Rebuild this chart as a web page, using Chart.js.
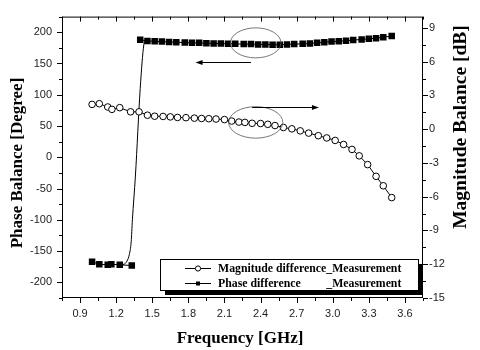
<!DOCTYPE html>
<html>
<head>
<meta charset="utf-8">
<script src="https://cdn.jsdelivr.net/npm/chart.js@4.4.1/dist/chart.umd.min.js"></script>
<style>
  html, body { margin: 0; padding: 0; background: #fff; }
  #wrap { width: 480px; height: 350px; }
</style>
</head>
<body>
<div id="wrap"><canvas id="balanceChart"></canvas></div>
<script>
// magnitude difference (right axis, dB)
const magFreq = [1.00, 1.06, 1.13, 1.165, 1.23, 1.32, 1.39, 1.46, 1.52, 1.59, 1.65, 1.71, 1.78, 1.85, 1.91,
  1.97, 2.03, 2.10, 2.16, 2.22, 2.27, 2.33, 2.40, 2.46, 2.52, 2.59, 2.66, 2.73, 2.80, 2.88, 2.95, 3.02,
  3.09, 3.16, 3.22, 3.29, 3.36, 3.42, 3.49];
const magDb = [2.20, 2.26, 1.97, 1.76, 1.91, 1.54, 1.54, 1.24, 1.15, 1.13, 1.09, 1.04, 1.02, 0.98, 0.95,
  0.93, 0.90, 0.85, 0.72, 0.63, 0.60, 0.52, 0.50, 0.43, 0.32, 0.15, 0.03, -0.15, -0.35, -0.58, -0.78, -1.00,
  -1.36, -1.80, -2.37, -3.15, -4.19, -5.03, -6.08];

// phase difference (left axis, degree)
const phaseLowFreq = [1.00, 1.06, 1.13, 1.16, 1.23, 1.33];
const phaseLowDeg = [-167, -171, -172, -171, -172, -173];
const phaseHighFreq = [1.40, 1.46, 1.52, 1.58, 1.64, 1.70, 1.77, 1.83, 1.89, 1.95, 2.01, 2.07, 2.13, 2.19,
  2.26, 2.32, 2.38, 2.44, 2.50, 2.56, 2.62, 2.68, 2.75, 2.81, 2.87, 2.93, 2.99, 3.05, 3.11, 3.17, 3.24,
  3.30, 3.36, 3.42, 3.49];
const phaseHighDeg = [188, 186, 185.5, 185, 184.5, 184, 183.5, 183, 183, 182.5, 182, 182, 181.5, 181.5,
  181, 181, 180.5, 180.5, 180, 180, 180.5, 181, 181.5, 182, 183, 184, 185, 185.5, 186.5, 187.5, 188.5,
  189.5, 190.5, 192, 194];
// the steep phase jump curve
const stepFreq = [1.23, 1.265, 1.29, 1.31, 1.325, 1.335, 1.36, 1.40, 1.43, 1.445];
const stepDeg = [-172, -171, -166, -155, -135, -100, -30, 110, 180, 187];

const xTicks = [0.9, 1.2, 1.5, 1.8, 2.1, 2.4, 2.7, 3.0, 3.3, 3.6];
const xTickLabels = ["0.9", "1.2", "1.5", "1.8", "2.1", "2.4", "2.7", "3.0", "3.3", "3.6"];
const phaseTicks = [-200, -150, -100, -50, 0, 50, 100, 150, 200];
const phaseTickLabels = ["-200", "-150", "-100", "-50", "0", "50", "100", "150", "200"];
const magTicks = [-15, -12, -9, -6, -3, 0, 3, 6, 9];
const magTickLabels = ["-15", "-12", "-9", "-6", "-3", "0", "3", "6", "9"];

const pts = (xs, ys) => xs.map((x, i) => ({ x: x, y: ys[i] }));

/**
 * Draws the frame, mirrored ticks, axis titles, legend box and the
 * two ellipse + arrow callouts.
 */
const decorations = {
  id: "decorations",
  afterDraw(chart) {
    const ctx = chart.ctx;
    const a = chart.chartArea;
    const sx = chart.scales.x, sl = chart.scales.yL, sr = chart.scales.yR;
    ctx.save();
    ctx.strokeStyle = "#000";
    ctx.fillStyle = "#000";
    ctx.lineWidth = 1;

    // frame
    ctx.strokeRect(a.left + 0.5, a.top + 0.5, a.right - a.left - 1, a.bottom - a.top - 1);

    // ticks
    ctx.beginPath();
    for (let v = 0.75; v <= 3.75 + 1e-9; v += 0.15) {
      const major = xTicks.some(t => Math.abs(t - v) < 1e-6);
      const px = Math.round(sx.getPixelForValue(v)) + 0.5;
      const len = major ? 5 : 3;
      ctx.moveTo(px, a.bottom); ctx.lineTo(px, a.bottom + len);
      ctx.moveTo(px, a.top); ctx.lineTo(px, a.top + len);
    }
    for (let v = -225; v <= 225; v += 25) {
      const major = phaseTicks.includes(v);
      const py = Math.round(sl.getPixelForValue(v)) + 0.5;
      ctx.moveTo(a.left, py); ctx.lineTo(a.left - (major ? 5 : 3), py);
    }
    for (let v = -15; v <= 10; v += 1.5) {
      const major = magTicks.some(t => Math.abs(t - v) < 1e-6);
      const py = Math.round(sr.getPixelForValue(v)) + 0.5;
      ctx.moveTo(a.right, py); ctx.lineTo(a.right + (major ? 5 : 3), py);
    }
    ctx.stroke();

    // axis titles
    ctx.textAlign = "center";
    ctx.textBaseline = "middle";
    ctx.font = "bold 17px 'Liberation Serif', serif";
    ctx.fillText("Frequency [GHz]", 240, 339);
    ctx.save();
    ctx.translate(18, 163);
    ctx.rotate(-Math.PI / 2);
    ctx.fillText("Phase Balance [Degree]", 0, 0);
    ctx.restore();
    ctx.save();
    ctx.translate(461, 127);
    ctx.rotate(-Math.PI / 2);
    ctx.font = "bold 19.5px 'Liberation Serif', serif";
    ctx.fillText("Magnitude Balance [dB]", 0, 0);
    ctx.restore();

    // callouts
    ctx.strokeStyle = "#555";
    ctx.lineWidth = 0.8;
    const ellipse = (scaleY, cx, cy, rx, ry) => {
      const x0 = sx.getPixelForValue(cx), y0 = scaleY.getPixelForValue(cy);
      const w = Math.abs(sx.getPixelForValue(cx + rx) - x0);
      const h = Math.abs(scaleY.getPixelForValue(cy + ry) - y0);
      ctx.beginPath();
      ctx.ellipse(x0, y0, w, h, 0, 0, Math.PI * 2);
      ctx.stroke();
    };
    ellipse(sl, 2.36, 183, 0.21, 24);
    ellipse(sr, 2.36, 0.6, 0.225, 1.4);

    ctx.strokeStyle = "#000";
    ctx.lineWidth = 1;
    const arrow = (scaleY, fx, tx, yv) => {
      const x1 = sx.getPixelForValue(fx), x2 = sx.getPixelForValue(tx);
      const y = Math.round(scaleY.getPixelForValue(yv)) + 0.5;
      const dir = Math.sign(x2 - x1);
      ctx.beginPath();
      ctx.moveTo(x1, y); ctx.lineTo(x2 - dir * 4, y);
      ctx.stroke();
      ctx.beginPath();
      ctx.moveTo(x2, y); ctx.lineTo(x2 - dir * 7, y - 2.5); ctx.lineTo(x2 - dir * 7, y + 2.5);
      ctx.closePath();
      ctx.fill();
    };
    arrow(sl, 2.32, 1.86, 153);
    arrow(sr, 2.33, 2.885, 2.0);

    // legend with drop shadow
    const lx = 160, ly = 259, lw = 258, lh = 31;
    ctx.fillStyle = "#000";
    ctx.fillRect(lx + 5, ly + 5, lw, lh);
    ctx.fillStyle = "#fff";
    ctx.fillRect(lx, ly, lw, lh);
    ctx.strokeRect(lx + 0.5, ly + 0.5, lw, lh);

    ctx.font = "bold 11.8px 'Liberation Serif', serif";
    ctx.textAlign = "left";
    const nameX = 218;
    const labels = chart.data.datasets.filter(d => d.inLegend).map(d => d.label);
    const col = nameX + ctx.measureText(labels[0].split("_")[0]).width;
    labels.forEach((lab, i) => {
      const y = 268 + i * 15;
      ctx.strokeStyle = "#000";
      ctx.lineWidth = 1;
      ctx.beginPath();
      ctx.moveTo(185, y + 0.5); ctx.lineTo(211, y + 0.5);
      ctx.stroke();
      if (i === 0) {
        ctx.fillStyle = "#fff";
        ctx.beginPath();
        ctx.arc(198, y + 0.5, 2.6, 0, Math.PI * 2);
        ctx.fill();
        ctx.stroke();
      } else {
        ctx.fillStyle = "#000";
        ctx.fillRect(196, y - 1.5, 4, 4);
      }
      ctx.fillStyle = "#000";
      const parts = lab.split("_");
      ctx.fillText(parts[0].trim(), nameX, y + 1);
      ctx.fillText("_" + parts[1], col, y + 1);
    });
    ctx.restore();
  }
};

const squareStyle = {
  yAxisID: "yL",
  borderColor: "#000",
  borderWidth: 1,
  pointStyle: "rect",
  pointRadius: 4.6,
  pointBackgroundColor: "#000",
  pointBorderColor: "#000",
  pointBorderWidth: 0,
  tension: 0
};

new Chart(document.getElementById("balanceChart"), {
  type: "line",
  data: {
    datasets: [
      {
        label: "Magnitude difference_Measurement",
        inLegend: true,
        data: pts(magFreq, magDb),
        yAxisID: "yR",
        borderColor: "#000",
        borderWidth: 1,
        pointStyle: "circle",
        pointRadius: 3.3,
        pointBackgroundColor: "#fff",
        pointBorderColor: "#000",
        pointBorderWidth: 1,
        tension: 0
      },
      Object.assign({ label: "Phase difference _Measurement", inLegend: true, data: pts(phaseHighFreq, phaseHighDeg) }, squareStyle),
      Object.assign({ label: "Phase low", data: pts(phaseLowFreq, phaseLowDeg) }, squareStyle),
      {
        label: "Phase step",
        data: pts(stepFreq, stepDeg),
        yAxisID: "yL",
        borderColor: "#000",
        borderWidth: 1,
        pointRadius: 0,
        cubicInterpolationMode: "monotone"
      }
    ]
  },
  options: {
    responsive: true,
    maintainAspectRatio: false,
    devicePixelRatio: 1,
    animation: false,
    layout: { padding: { top: 10, left: 0, right: 0, bottom: 0 } },
    plugins: {
      legend: { display: false },
      tooltip: { enabled: false }
    },
    scales: {
      x: {
        type: "linear",
        min: 0.75,
        max: 3.75,
        grid: { display: false, drawTicks: false },
        border: { display: false },
        afterBuildTicks: s => { s.ticks = xTicks.map(v => ({ value: v })); },
        afterFit: s => { s.height = 52; },
        ticks: {
          padding: 9,
          color: "#222",
          font: { family: "'Liberation Sans', Arial, sans-serif", size: 11 },
          callback: (v, i) => xTickLabels[i]
        }
      },
      yL: {
        type: "linear",
        position: "left",
        min: -225,
        max: 225,
        grid: { display: false, drawTicks: false },
        border: { display: false },
        afterBuildTicks: s => { s.ticks = phaseTicks.map(v => ({ value: v })); },
        afterFit: s => { s.width = 62; },
        ticks: {
          padding: 10,
          color: "#222",
          font: { family: "'Liberation Sans', Arial, sans-serif", size: 11 },
          callback: (v, i) => phaseTickLabels[i]
        }
      },
      yR: {
        type: "linear",
        position: "right",
        min: -15,
        max: 10,
        grid: { display: false, drawTicks: false },
        border: { display: false },
        afterBuildTicks: s => { s.ticks = magTicks.map(v => ({ value: v })); },
        afterFit: s => { s.width = 57; },
        ticks: {
          padding: 6,
          color: "#222",
          font: { family: "'Liberation Sans', Arial, sans-serif", size: 11 },
          callback: (v, i) => magTickLabels[i]
        }
      }
    }
  },
  plugins: [decorations]
});
</script>
</body>
</html>
